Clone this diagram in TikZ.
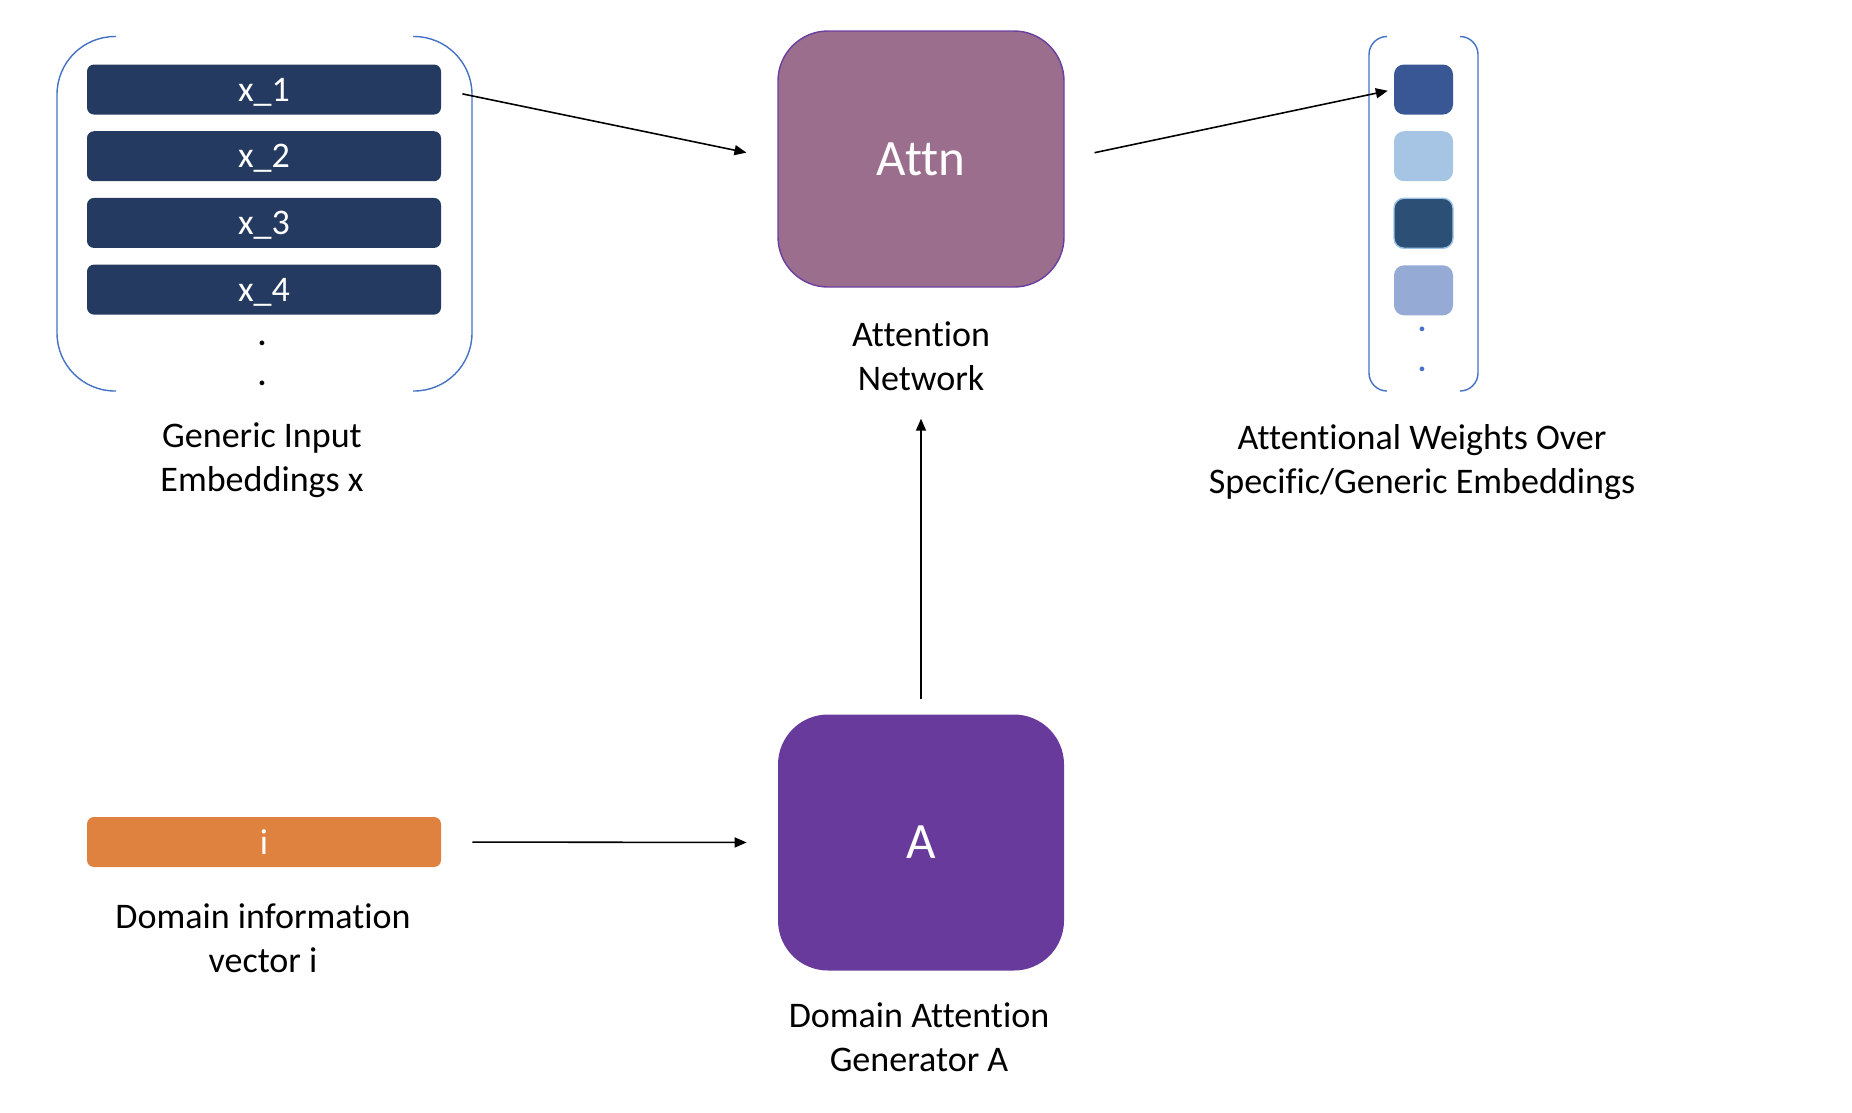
\documentclass[tikz,border=0pt]{standalone}
\usepackage{fontspec}
\setmainfont{Carlito}[Ligatures=NoCommon]
\usepackage{tikz}
\usetikzlibrary{positioning,arrows.meta,shapes}
\usepackage{xcolor}

\definecolor{navy}{HTML}{253A60}
\definecolor{iorange}{HTML}{E0823F}
\definecolor{attnfill}{HTML}{9A6E8C}
\definecolor{attnline}{HTML}{6B3FA0}
\definecolor{genfill}{HTML}{673A9B}
\definecolor{brk}{HTML}{4472C4}
\definecolor{wone}{HTML}{3A5795}
\definecolor{wtwo}{HTML}{A6C4E3}
\definecolor{wthree}{HTML}{2B4F75}
\definecolor{wthreeline}{HTML}{9DC3E6}
\definecolor{wfour}{HTML}{95ABD6}

\newcommand{\lblfont}{\fontsize{20.5}{25}\selectfont}
\newcommand{\bigfont}{\fontsize{29}{35}\selectfont}
\newcommand{\dotfont}{\fontsize{18}{22.7}\bfseries\selectfont}

\begin{document}
\begin{tikzpicture}[
    embbox/.style={rectangle, rounded corners=0.14cm, fill=navy, text=white, minimum width=7.08cm, minimum height=1cm, text depth=0pt, font=\lblfont},
    wbox/.style={rectangle, rounded corners=0.2cm, minimum width=1.18cm, minimum height=1cm},
    bigbox/.style={rectangle, rounded corners=1cm, text=white, minimum width=5.72cm, minimum height=5.12cm, font=\bigfont},
    caption/.style={align=center, font=\lblfont},
    dotmark/.style={align=center, font=\dotfont, inner sep=0pt},
    bracket/.style={draw=brk, line width=0.8pt},
    arrow/.style={-{Triangle[length=0.24cm, width=0.2cm]}, line width=0.9pt}
]
    \useasboundingbox (0,0) rectangle (37.04,-22.24);

    % generic input embeddings
    \node[embbox] (x1) at (5.28,-1.79) {x\_1};
    \node[embbox, below=0.32cm of x1] (x2) {x\_2};
    \node[embbox, below=0.32cm of x2] (x3) {x\_3};
    \node[embbox, below=0.32cm of x3] (x4) {x\_4};
    \node[dotmark] (xdots) at (5.24,-7.26) {.\\.};
    \draw[bracket, rounded corners=1.16cm] (2.32,-0.73) -- (1.14,-0.73) -- (1.14,-7.82) -- (2.32,-7.82);
    \draw[bracket, rounded corners=1.16cm] (8.26,-0.73) -- (9.44,-0.73) -- (9.44,-7.82) -- (8.26,-7.82);
    \node[caption] (xlbl) at (5.24,-9.2) {Generic Input\\Embeddings x};

    % attention network
    \node[bigbox, fill=attnfill, draw=attnline, line width=0.8pt] (attn) at (18.42,-3.18) {Attn};
    \node[caption] (attnlbl) at (18.42,-7.12) {Attention\\Network};

    % attentional weights
    \node[wbox, fill=wone] (w1) at (28.47,-1.79) {};
    \node[wbox, fill=wtwo, below=0.32cm of w1] (w2) {};
    \node[wbox, fill=wthree, draw=wthreeline, line width=0.8pt, below=0.32cm of w2] (w3) {};
    \node[wbox, fill=wfour, below=0.32cm of w3] (w4) {};
    \node[dotmark, text=brk] (wdots) at (28.44,-6.98) {.\\.};
    \draw[bracket, rounded corners=0.36cm] (27.74,-0.73) -- (27.38,-0.73) -- (27.38,-7.82) -- (27.74,-7.82);
    \draw[bracket, rounded corners=0.36cm] (29.2,-0.73) -- (29.56,-0.73) -- (29.56,-7.82) -- (29.2,-7.82);
    \node[caption] (wlbl) at (28.44,-9.24) {Attentional Weights Over\\Specific/Generic Embeddings};

    % domain information
    \node[embbox, fill=iorange] (ivec) at (5.28,-16.84) {i};
    \node[caption] (ilbl) at (5.26,-18.76) {Domain information\\vector i};

    % domain attention generator
    \node[bigbox, fill=genfill] (agen) at (18.42,-16.85) {A};
    \node[caption] (agenlbl) at (18.38,-20.75) {Domain Attention\\Generator A};

    \draw[arrow, shorten <=0.43cm, shorten >=0.63cm] (x1.east) -- (attn.west);
    \draw[arrow, shorten <=0.61cm, shorten >=0.12cm] (attn.east) -- (w1.west);
    \draw[arrow, shorten <=0.3cm, shorten >=0.44cm] (agen.north) -- (attnlbl.south);
    \draw[arrow, shorten <=0.62cm, shorten >=0.62cm] (ivec.east) -- (agen.west);
\end{tikzpicture}
\end{document}
